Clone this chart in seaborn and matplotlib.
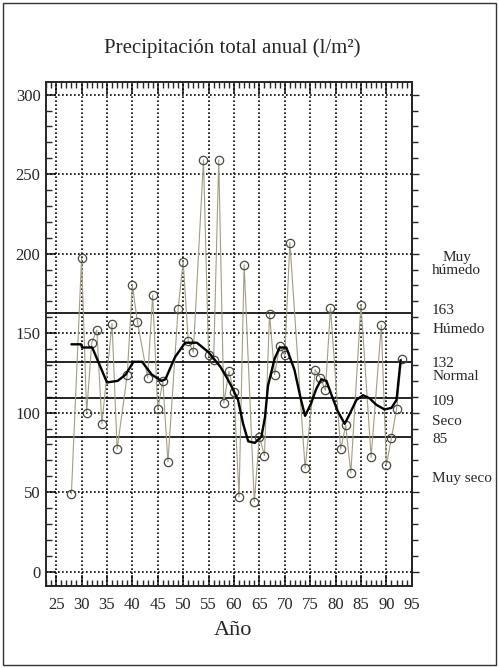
import numpy as np
import matplotlib.pyplot as plt
import seaborn as sns
from matplotlib.ticker import MultipleLocator
from matplotlib.patches import Rectangle

# annual precipitation (l/m2), years 19xx
years = [28, 30, 31, 32, 33, 34, 36, 37, 39, 40, 41, 43, 44, 45, 46, 47, 49,
         50, 51, 52, 54, 55, 56, 57, 58, 59, 60, 61, 62, 64, 65, 66, 67, 68,
         69, 70, 71, 74, 76, 77, 78, 79, 81, 82, 83, 85, 87, 89, 90, 91, 92, 93]
precip = [49, 197, 100, 144, 152, 93, 156, 77, 124, 180, 157, 122, 174, 102, 120, 69, 165,
          195, 145, 138, 259, 136, 133, 259, 106, 126, 113, 47, 193, 44, 85, 73, 162, 124,
          142, 136, 207, 65, 127, 122, 114, 166, 77, 92, 62, 168, 72, 155, 67, 84, 102, 134]

# smoothed curve
smooth_years = [28, 29.9, 30.1, 32.1, 35, 37.1, 38.7, 40.2, 41.9, 43.8, 45.7, 46.5, 48.4,
                50.4, 52.7, 55, 57.3, 58.6, 59.6, 60.8, 61.8, 62.8, 64.1, 65.4, 66.1, 66.7,
                68, 69, 70.3, 71.9, 73.2, 74, 75.2, 76.2, 77.2, 78.2, 79.1, 80.4, 81.8,
                82.75, 84.1, 85.4, 86.7, 88, 89.65, 91, 92, 92.8]
smooth_vals = [143, 143, 141, 141, 119, 120, 124, 132, 132, 124, 120, 121, 135,
               144, 144, 138, 129, 122, 116, 108, 93, 82, 81, 85, 97, 117,
               134, 141, 141, 127, 108, 98, 106, 115, 121, 120, 112, 101, 93,
               99, 108, 111, 109, 105, 102, 103, 108, 133]

levels = [163, 132, 109, 85]

sns.set_style("ticks")
plt.rcParams['font.family'] = ['Liberation Serif', 'DejaVu Serif']

fig = plt.figure(figsize=(4.99, 6.68), dpi=100)
ax = fig.add_axes([0.0922, 0.1228, 0.733, 0.7545])

# grid
for gx in range(25, 95, 5):
    ax.axvline(gx, color='black', lw=1.2, ls=(0, (1, 1.4)), zorder=1)
for gy in range(0, 301, 50):
    ax.axhline(gy, color='black', lw=1.2, ls=(0, (1, 1.4)), zorder=1)

for lv in levels:
    ax.axhline(lv, color='black', lw=1.2, zorder=2)

sns.lineplot(x=years, y=precip, ax=ax, color='#a39d84', lw=0.8, marker='o',
             markersize=6, markerfacecolor='none', markeredgecolor='#4a4a40',
             markeredgewidth=0.9, zorder=3)
sns.lineplot(x=smooth_years, y=smooth_vals, ax=ax, color='black', lw=1.7, zorder=4)

ax.set_xlim(23, 95)
ax.set_ylim(-9, 308)
ax.xaxis.set_major_locator(MultipleLocator(5))
ax.xaxis.set_minor_locator(MultipleLocator(1))
ax.yaxis.set_major_locator(MultipleLocator(50))
ax.yaxis.set_minor_locator(MultipleLocator(10))
ax.tick_params(axis='x', which='both', direction='in', top=True, bottom=True)
ax.tick_params(axis='x', which='major', length=8, width=1.2, pad=8, labelsize=12)
ax.tick_params(axis='x', which='minor', length=4, width=1)
ax.tick_params(axis='y', which='both', direction='in', left=True, right=False)
ax.tick_params(axis='y', which='major', length=7, width=1.2, pad=4, labelsize=12)
ax.tick_params(axis='y', which='minor', length=4, width=1)
for s in ax.spines.values():
    s.set_linewidth(1.4)
    s.set_visible(True)

sec = ax.secondary_yaxis('right')
sec.yaxis.set_major_locator(MultipleLocator(50))
sec.yaxis.set_minor_locator(MultipleLocator(10))
sec.tick_params(which='both', direction='out', labelright=False)
sec.tick_params(which='major', length=5, width=1)
sec.tick_params(which='minor', length=4, width=1)
sec.spines['right'].set_linewidth(1.4)

ax.set_xlabel('')
ax.set_ylabel('')

# class labels at the right
lab_kw = dict(fontsize=11, clip_on=False, va='center')
ax.text(103.8, 193.6, 'Muy\nhúmedo', ha='center', multialignment='center',
        linespacing=1.0, **lab_kw)
ax.text(99, 164, '163', ha='left', **lab_kw)
ax.text(99, 152, 'Húmedo', ha='left', **lab_kw)
ax.text(99, 131, '132', ha='left', **lab_kw)
ax.text(99, 122.5, 'Normal', ha='left', **lab_kw)
ax.text(99, 107, '109', ha='left', **lab_kw)
ax.text(99, 94.3, 'Seco', ha='left', **lab_kw)
ax.text(99, 83.2, '85', ha='left', **lab_kw)
ax.text(99, 58.6, 'Muy seco', ha='left', **lab_kw)

fig.text(0.466, 0.928, 'Precipitación total anual (l/m²)', ha='center', va='center',
         fontsize=15)
fig.text(0.466, 0.049, 'Año', ha='center', va='baseline', fontsize=16)

fig.patches.append(Rectangle((0.006, 0.004), 0.988, 0.992, transform=fig.transFigure,
                             fill=False, edgecolor='#333333', lw=1))

fig.savefig('out.png', dpi=100)
